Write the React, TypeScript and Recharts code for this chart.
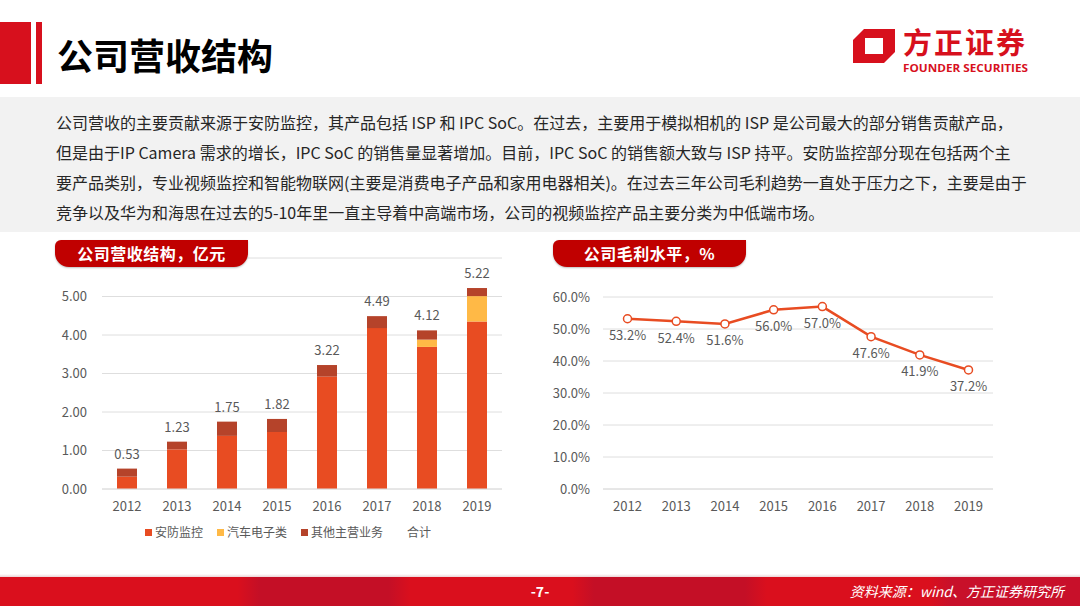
import React from "react";
import { BarChart, Bar, LineChart, Line, XAxis, YAxis, CartesianGrid, LabelList } from "recharts";

// revenue structure, 100m yuan
const years = ["2012", "2013", "2014", "2015", "2016", "2017", "2018", "2019"];
const securityRev = [0.32, 1.03, 1.38, 1.48, 2.92, 4.18, 3.69, 4.35];
const autoRev = [0, 0, 0, 0, 0, 0, 0.19, 0.66];
const otherRev = [0.21, 0.2, 0.37, 0.34, 0.3, 0.31, 0.24, 0.21];
const totalRev = [0.53, 1.23, 1.75, 1.82, 3.22, 4.49, 4.12, 5.22];
const revTicks = [0, 1, 2, 3, 4, 5, 6];

// gross margin, %
const grossMargin = [53.2, 52.4, 51.6, 56.0, 57.0, 47.6, 41.9, 37.2];
const marginTicks = [0, 10, 20, 30, 40, 50, 60];

const legendNames = ["安防监控", "汽车电子类", "其他主营业务", "合计"];

const paragraph = [
	"公司营收的主要贡献来源于安防监控，其产品包括 ISP 和 IPC SoC。在过去，主要用于模拟相机的 ISP 是公司最大的部分销售贡献产品，",
	"但是由于IP Camera 需求的增长，IPC SoC 的销售量显著增加。目前，IPC SoC 的销售额大致与 ISP 持平。安防监控部分现在包括两个主",
	"要产品类别，专业视频监控和智能物联网(主要是消费电子产品和家用电器相关)。在过去三年公司毛利趋势一直处于压力之下，主要是由于",
	"竞争以及华为和海思在过去的5-10年里一直主导着中高端市场，公司的视频监控产品主要分类为中低端市场。",
];

const ORANGE = "#E84C22";
const YELLOW = "#FFB946";
const BROWN = "#B5432A";
const RED = "#D7101D";
const GRID = "#DEDEDE";
const TEXT = "#595959";
const FONT = '"Noto Sans CJK SC", "Noto Sans", sans-serif';

const revData = years.map((year, i) => ({
	year,
	security: securityRev[i],
	auto: autoRev[i],
	other: otherRev[i],
	total: totalRev[i],
}));
const marginData = years.map((year, i) => ({ year, margin: grossMargin[i] }));
const legendColors = [ORANGE, YELLOW, BROWN, "transparent"];

const tick = { fill: TEXT, fontSize: 13, fontFamily: FONT };

function Pill({ left, text }: { left: number; text: string }) {
	return (
		<div style={{
			position: "absolute", left, top: 240, width: 193, height: 27,
			background: "#C00000", borderRadius: "6px 0 14px 14px",
			boxShadow: "0 1px 2px rgba(0,0,0,0.25)",
			color: "#fff", fontWeight: 700, fontSize: 16, lineHeight: "27px",
			textAlign: "center", letterSpacing: 0.5,
		}}>{text}</div>
	);
}

function Logo() {
	return (
		<svg style={{ position: "absolute", left: 850, top: 15 }} width={190} height={66}>
			<polygon points="14,14 45,14 45,37 34,48 3,48 3,25" fill={RED} />
			<polygon points="15,23 33,23 33,39 15,39" fill="#fff" />
			<text x={53} y={39} fontSize={29} fontWeight={700} fill={RED} textLength={122} fontFamily={FONT}>方正证券</text>
			<text x={53} y={57} fontSize={11} fontWeight={700} fill={RED} textLength={125} lengthAdjust="spacingAndGlyphs" fontFamily="'Open Sans', sans-serif">FOUNDER SECURITIES</text>
		</svg>
	);
}

export default function App() {
	return (
		<div style={{ position: "fixed", left: 0, top: 0, width: 1080, height: 606, background: "#fff", overflow: "hidden", fontFamily: FONT }}>
			{/* header */}
			<div style={{ position: "absolute", left: 0, top: 22, width: 31, height: 62, background: RED }} />
			<div style={{ position: "absolute", left: 36, top: 22, width: 6, height: 62, background: RED }} />
			<div style={{ position: "absolute", left: 57, top: 30, fontSize: 36, fontWeight: 700, color: "#000", lineHeight: "48px" }}>公司营收结构</div>
			<Logo />

			{/* summary box */}
			<div style={{ position: "absolute", left: 0, top: 97, width: 1080, height: 135, background: "#F2F2F2" }} />
			{paragraph.map((line, i) => (
				<div key={i} style={{ position: "absolute", left: 56, top: 107 + i * 30, fontSize: 16, lineHeight: "30px", color: "#262626", whiteSpace: "nowrap" }}>{line}</div>
			))}

			{/* revenue chart */}
			<div style={{ position: "absolute", left: 40, top: 235 }}>
				<BarChart width={480} height={290} data={revData} margin={{ top: 23, right: 18, left: 0, bottom: 6 }} barSize={20}>
					<CartesianGrid vertical={false} stroke={GRID} />
					<XAxis dataKey="year" tick={tick} tickLine={false} tickSize={0} tickMargin={13} axisLine={{ stroke: GRID }} height={30} />
					<YAxis domain={[0, 6]} ticks={revTicks} tick={tick} tickFormatter={(v: number) => (v === 6 ? "" : v.toFixed(2))} tickLine={false} tickSize={0} tickMargin={15} axisLine={false} width={62} />
					<Bar dataKey="security" stackId="a" fill={ORANGE} isAnimationActive={false} />
					<Bar dataKey="auto" stackId="a" fill={YELLOW} isAnimationActive={false} />
					<Bar dataKey="other" stackId="a" fill={BROWN} isAnimationActive={false}>
						<LabelList dataKey="total" position="top" offset={10} fill={TEXT} fontSize={13} fontFamily={FONT} />
					</Bar>
				</BarChart>
			</div>
			<div style={{ position: "absolute", left: 145, top: 524, display: "flex", gap: 14, fontSize: 12, color: TEXT, lineHeight: "16px" }}>
				{legendNames.map((name, i) => (
					<div key={name} style={{ display: "flex", alignItems: "center" }}>
						<span style={{ width: 7, height: 7, background: legendColors[i], marginRight: 3 }} />
						<span>{name}</span>
					</div>
				))}
			</div>
			<Pill left={55} text="公司营收结构，亿元" />

			{/* gross margin chart */}
			<div style={{ position: "absolute", left: 540, top: 235 }}>
				<LineChart width={470} height={290} data={marginData} margin={{ top: 62, right: 17, left: 0, bottom: 6 }}>
					<CartesianGrid vertical={false} stroke={GRID} />
					<XAxis dataKey="year" tick={tick} tickLine={false} tickSize={0} tickMargin={13} axisLine={{ stroke: GRID }} height={30} padding={{ left: 24.5, right: 24.5 }} />
					<YAxis domain={[0, 60]} ticks={marginTicks} tick={tick} tickFormatter={(v: number) => `${v.toFixed(1)}%`} tickLine={false} tickSize={0} tickMargin={13} axisLine={false} width={63} />
					<Line dataKey="margin" stroke={ORANGE} strokeWidth={2.5} dot={{ r: 4, fill: "#fff", stroke: ORANGE, strokeWidth: 1.5 }} isAnimationActive={false}>
						<LabelList dataKey="margin" position="bottom" offset={12} fill={TEXT} fontSize={13} fontFamily={FONT} formatter={(v: any) => `${Number(v).toFixed(1)}%`} />
					</Line>
				</LineChart>
			</div>
			<Pill left={553} text="公司毛利水平，%" />

			{/* footer */}
			<div style={{ position: "absolute", left: 0, top: 574, width: 1080, height: 3, background: "linear-gradient(#fff, #EBD3D5)" }} />
			<div style={{
				position: "absolute", left: 0, top: 577, width: 1080, height: 29,
				background: "linear-gradient(90deg, #DA0F1D 0%, #DA0F1D 22%, #C40F26 24%, #C40F26 36%, #DA0F1D 38%, #DA0F1D 53%, #C40F26 55%, #C40F26 69%, #DA0F1D 71%, #DA0F1D 86%, #C8102A 88%, #C8102A 100%)",
			}} />
			<div style={{ position: "absolute", left: 520, top: 577, width: 40, textAlign: "center", color: "#fff", fontWeight: 700, fontSize: 14, lineHeight: "29px" }}>-7-</div>
			<div style={{ position: "absolute", right: 16, top: 577, color: "#fff", fontStyle: "italic", fontSize: 14, lineHeight: "29px" }}>资料来源：wind、方正证券研究所</div>
		</div>
	);
}
